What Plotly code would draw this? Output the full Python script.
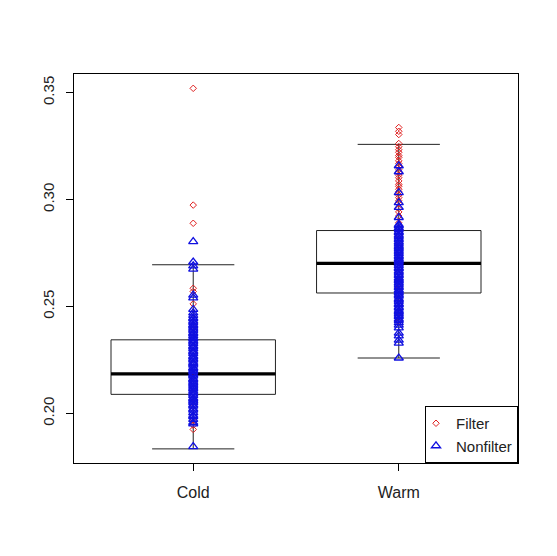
import plotly.graph_objects as go

# ---- data ----
groups = ["Cold", "Warm"]
positions = [1, 2]

q1 = [0.2089, 0.2563]
median = [0.2185, 0.2701]
q3 = [0.2344, 0.2855]
lower_whisker = [0.1834, 0.2259]
upper_whisker = [0.2695, 0.3258]

cold_filter = [0.3520, 0.2974, 0.2889, 0.2585, 0.2570, 0.2512, 0.2405, 0.2283,
               0.2172, 0.2118, 0.2071, 0.2032, 0.1968, 0.1945, 0.1925]
cold_nonfilter = [0.1845, 0.1951, 0.1958, 0.1972, 0.1985, 0.1990, 0.2003, 0.2015,
                  0.2021, 0.2034, 0.2040, 0.2051, 0.2058, 0.2066, 0.2071, 0.2083,
                  0.2090, 0.2097, 0.2104, 0.2113, 0.2118, 0.2127, 0.2136, 0.2142,
                  0.2150, 0.2158, 0.2162, 0.2174, 0.2180, 0.2186, 0.2195, 0.2201,
                  0.2210, 0.2214, 0.2226, 0.2233, 0.2238, 0.2249, 0.2255, 0.2263,
                  0.2268, 0.2279, 0.2286, 0.2291, 0.2302, 0.2310, 0.2315, 0.2326,
                  0.2333, 0.2340, 0.2349, 0.2354, 0.2363, 0.2372, 0.2377, 0.2388,
                  0.2394, 0.2402, 0.2410, 0.2415, 0.2426, 0.2431, 0.2442, 0.2447,
                  0.2458, 0.2470, 0.2486, 0.2540, 0.2553, 0.2675, 0.2690, 0.2708,
                  0.2803]

warm_filter = [0.3337, 0.3319, 0.3304, 0.3262, 0.3247, 0.3233, 0.3221, 0.3206,
               0.3197, 0.3181, 0.3168, 0.3152, 0.3139, 0.3126, 0.3114, 0.3102,
               0.3087, 0.3071, 0.3062, 0.3048, 0.3036, 0.3021, 0.3009, 0.2994,
               0.2981, 0.2957, 0.2942, 0.2923, 0.2891, 0.2862, 0.2833, 0.2788,
               0.2752, 0.2712, 0.2661, 0.2618, 0.2584, 0.2541, 0.2474, 0.2430]
warm_nonfilter = [0.2259, 0.2329, 0.2343, 0.2362, 0.2375, 0.2400, 0.2413, 0.2424,
                  0.2435, 0.2441, 0.2452, 0.2458, 0.2467, 0.2475, 0.2481, 0.2492,
                  0.2497, 0.2508, 0.2513, 0.2524, 0.2531, 0.2537, 0.2548, 0.2554,
                  0.2563, 0.2571, 0.2577, 0.2588, 0.2594, 0.2603, 0.2610, 0.2619,
                  0.2626, 0.2633, 0.2644, 0.2650, 0.2659, 0.2665, 0.2676, 0.2681,
                  0.2691, 0.2698, 0.2707, 0.2715, 0.2722, 0.2731, 0.2738, 0.2747,
                  0.2754, 0.2762, 0.2771, 0.2778, 0.2786, 0.2795, 0.2802, 0.2811,
                  0.2818, 0.2828, 0.2834, 0.2844, 0.2850, 0.2861, 0.2867, 0.2877,
                  0.2883, 0.2916, 0.2963, 0.2986, 0.3032, 0.3130, 0.3158]

box_width = 0.8
font = "Liberation Sans, Arial, sans-serif"

fig = go.Figure()

fig.add_trace(go.Box(
    x=positions, q1=q1, median=median, q3=q3,
    lowerfence=lower_whisker, upperfence=upper_whisker,
    width=box_width, whiskerwidth=0.5,
    fillcolor="white", line=dict(color="#222222", width=1),
    boxpoints=False, showlegend=False, hoverinfo="skip",
))

# thick median lines
mx, my = [], []
for p, m in zip(positions, median):
    mx += [p - box_width / 2, p + box_width / 2, None]
    my += [m, m, None]
fig.add_trace(go.Scatter(x=mx, y=my, mode="lines",
                         line=dict(color="black", width=3.2),
                         showlegend=False, hoverinfo="skip"))

fig.add_trace(go.Scatter(
    x=[1] * len(cold_filter) + [2] * len(warm_filter),
    y=cold_filter + warm_filter,
    mode="markers", name="Filter",
    marker=dict(symbol="diamond-open", size=5, color="#e02020", line=dict(width=1)),
))
fig.add_trace(go.Scatter(
    x=[1] * len(cold_nonfilter) + [2] * len(warm_nonfilter),
    y=cold_nonfilter + warm_nonfilter,
    mode="markers", name="Nonfilter",
    marker=dict(symbol="triangle-up-open", size=8, color="#1010e0", line=dict(width=1.3)),
))

fig.update_layout(
    width=557, height=556,
    margin=dict(l=74, r=39, t=74, b=93),
    paper_bgcolor="white", plot_bgcolor="white",
    font=dict(family=font, size=15, color="#222222"),
    showlegend=True,
    legend=dict(x=1, y=0, xanchor="right", yanchor="bottom",
                bordercolor="black", borderwidth=1, bgcolor="white",
                font=dict(size=15), itemwidth=30, tracegroupgap=0,
                indentation=-10),
    xaxis=dict(range=[0.42, 2.58], tickvals=positions, ticktext=groups,
               showline=True, linecolor="black", linewidth=1, mirror=True,
               ticks="outside", ticklen=7, tickcolor="black",
               showgrid=False, zeroline=False, tickfont=dict(size=16),
               ticklabelstandoff=8),
    yaxis=dict(range=[0.1768, 0.3587], tickvals=[0.20, 0.25, 0.30, 0.35],
               ticktext=["0.20", "0.25", "0.30", "0.35"], tickangle=-90,
               showline=True, linecolor="black", linewidth=1, mirror=True,
               ticks="outside", ticklen=7, tickcolor="black",
               showgrid=False, zeroline=False, tickfont=dict(size=15),
               ticklabelstandoff=6),
)

fig.write_html("out.html")
